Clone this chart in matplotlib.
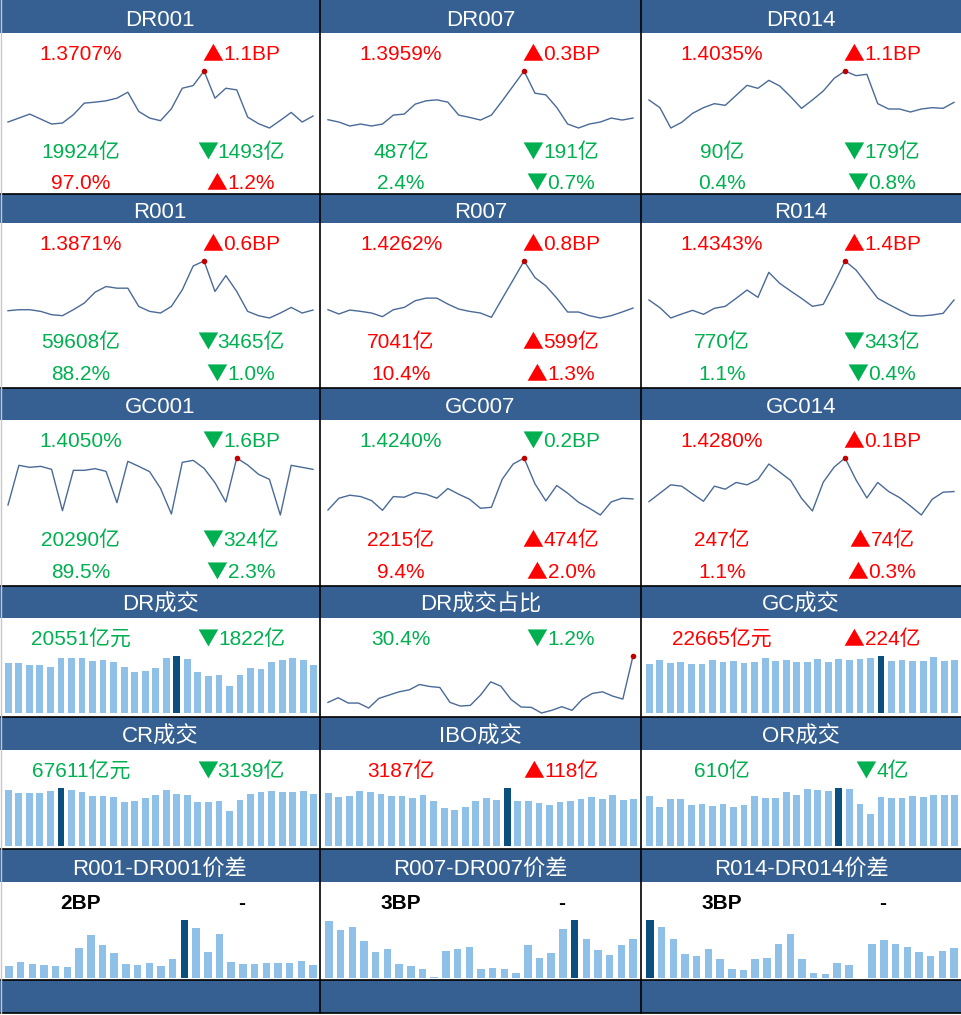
import matplotlib
matplotlib.use("Agg")
import matplotlib.pyplot as plt
from matplotlib.patches import Rectangle

plt.rcParams['font.family'] = ['Liberation Sans', 'Noto Sans CJK SC', 'DejaVu Sans']

W, H = 961, 1015
BLUE = "#366092"
RED = "#FF0000"
GREEN = "#00B050"
LINE = "#4A6A97"
BAR = "#8EC0E8"
BAR_HI = "#0B4F7F"

# ── rate panels ───────────────────────────────────────────────
rate_names = ["DR001", "DR007", "DR014", "R001", "R007", "R014", "GC001", "GC007", "GC014"]
rate_last = [1.3707, 1.3959, 1.4035, 1.3871, 1.4262, 1.4343, 1.4050, 1.4240, 1.4280]
rate_chg_bp = [1.1, 0.3, 1.1, 0.6, 0.8, 1.4, -1.6, -0.2, 0.1]
rate_vol = [19924, 487, 90, 59608, 7041, 770, 20290, 2215, 247]
rate_vol_chg = [-1493, -191, -179, -3465, 599, -343, -324, 474, 74]
rate_share = [97.0, 2.4, 0.4, 88.2, 10.4, 1.1, 89.5, 9.4, 1.1]
rate_share_chg = [1.2, -0.7, -0.8, -1.0, 1.3, -0.4, -2.3, 2.0, 0.3]

# sparkline levels (relative)
dr001_hist = [33, 45, 57, 42, 27, 30, 55, 90, 93, 97, 105, 123, 65, 45, 37, 73, 135, 143, 187,
              105, 135, 130, 48, 28, 15, 38, 62, 33, 51]
dr007_hist = [40, 33, 21, 27, 21, 27, 54, 57, 87, 97, 100, 93, 54, 47, 39, 54, 97, 142, 187,
              120, 115, 77, 27, 15, 27, 33, 45, 39, 45]
dr014_hist = [100, 77, 16, 33, 60, 77, 89, 84, 114, 144, 135, 159, 142, 110, 75, 100, 127, 165, 187,
              173, 177, 89, 73, 73, 64, 73, 77, 75, 93]
r001_hist = [37, 40, 40, 35, 25, 22, 40, 60, 93, 110, 105, 105, 50, 35, 30, 50, 100, 172, 187,
             95, 143, 95, 35, 22, 15, 30, 47, 30, 39]
r007_hist = [40, 27, 39, 35, 30, 19, 40, 47, 67, 75, 75, 57, 42, 35, 30, 17, 74, 130, 187,
             137, 112, 75, 33, 33, 22, 15, 22, 33, 45]
r014_hist = [70, 47, 16, 28, 39, 27, 45, 51, 75, 100, 78, 153, 120, 97, 75, 51, 57, 120, 187,
             160, 118, 75, 57, 40, 24, 22, 25, 30, 70]
gc001_hist = [40, 159, 153, 156, 147, 23, 144, 144, 149, 141, 47, 171, 156, 140, 90, 13, 168, 174,
              150, 107, 49, 181, 160, 132, 117, 10, 159, 153, 147]
gc007_hist = [25, 60, 69, 65, 53, 24, 65, 63, 77, 72, 60, 89, 72, 57, 30, 33, 117, 162, 180,
              103, 52, 98, 75, 48, 30, 10, 49, 60, 58]
gc014_hist = [50, 75, 100, 96, 73, 51, 96, 87, 107, 100, 116, 162, 138, 113, 60, 22, 108, 153, 180,
              115, 61, 107, 80, 62, 37, 10, 57, 78, 80]
rate_hist = [dr001_hist, dr007_hist, dr014_hist, r001_hist, r007_hist, r014_hist,
             gc001_hist, gc007_hist, gc014_hist]

# ── volume panels ─────────────────────────────────────────────
vol_names = ["DR成交", "DR成交占比", "GC成交", "CR成交", "IBO成交", "OR成交"]
vol_value = [20551, 30.4, 22665, 67611, 3187, 610]
vol_unit = ["亿元", "%", "亿元", "亿元", "亿", "亿"]
vol_chg = [-1822, -1.2, 224, -3139, 118, -4]
vol_chg_unit = ["亿", "%", "亿", "亿", "亿", "亿"]

dr_vol_hist = [152, 152, 145, 145, 139, 166, 166, 166, 157, 160, 154, 139, 124, 127, 136, 166, 172,
               163, 124, 112, 115, 82, 115, 136, 133, 154, 160, 166, 160, 145]
dr_share_hist = [48, 62, 46, 46, 31, 60, 70, 80, 86, 102, 96, 93, 48, 37, 39, 70, 110, 97, 57, 34,
                 33, 16, 24, 35, 24, 57, 75, 80, 67, 58, 188]
gc_vol_hist = [148, 160, 151, 154, 148, 148, 160, 154, 157, 151, 154, 166, 157, 160, 154, 154, 163,
               154, 163, 160, 163, 166, 172, 157, 160, 157, 157, 169, 157, 160]
cr_vol_hist = [168, 159, 159, 159, 165, 174, 168, 162, 150, 150, 147, 132, 135, 144, 153, 168, 156,
               153, 132, 132, 135, 105, 138, 156, 162, 165, 162, 162, 165, 156]
ibo_vol_hist = [159, 147, 150, 165, 162, 156, 150, 150, 144, 153, 135, 114, 108, 117, 135, 144, 138,
                174, 135, 135, 129, 123, 132, 135, 141, 147, 141, 153, 138, 141]
or_vol_hist = [150, 117, 141, 141, 123, 126, 120, 126, 117, 123, 150, 144, 144, 162, 153, 171, 168,
               165, 174, 171, 126, 96, 147, 144, 144, 150, 147, 153, 153, 153]
vol_hist = [dr_vol_hist, dr_share_hist, gc_vol_hist, cr_vol_hist, ibo_vol_hist, or_vol_hist]
vol_is_line = [False, True, False, False, False, False]

# ── spread panels ─────────────────────────────────────────────
spread_names = ["R001-DR001价差", "R007-DR007价差", "R014-DR014价差"]
spread_bp = [2, 3, 3]
spread1_hist = [35, 47, 41, 38, 35, 32, 89, 128, 98, 74, 41, 38, 44, 35, 56, 173, 149, 77, 131,
                47, 41, 41, 44, 44, 44, 50, 38]
spread7_hist = [173, 146, 155, 113, 77, 86, 41, 35, 26, 2, 80, 86, 95, 26, 29, 26, 14, 101, 59,
                74, 149, 175, 119, 83, 68, 101, 119]
spread14_hist = [173, 152, 116, 71, 65, 86, 56, 26, 23, 56, 59, 101, 131, 56, 14, 11, 44, 38, 0,
                 101, 113, 101, 92, 77, 65, 80, 89]
spread_hist = [spread1_hist, spread7_hist, spread14_hist]

# ── layout (pixels) ───────────────────────────────────────────
col_x = [0, 320, 641, 961]
row_top = [0, 194, 388, 586, 717, 849]
head_bot = [33, 223, 420, 618, 750, 882]
head_base = [26, 218, 413, 611, 743, 875]
rate_base = [(60, 158, 189), (250, 348, 380), (447, 546, 578)]
rate_box = [(71, 128), (261, 318), (458, 515)]
vol_base = [645, 777]
vol_box = [(656, 713), (788, 846)]
spread_base = 909
spread_box = (920, 978)
foot_top, foot_bot = 980, 1013


def sign_color(v):
    return RED if v > 0 else GREEN


def arrow(v):
    return "▲" if v > 0 else "▼"


fig = plt.figure(figsize=(W / 100, H / 100), dpi=100)
renderer = fig.canvas.get_renderer()
bg = fig.add_axes([0, 0, 1, 1])
bg.set_xlim(0, W)
bg.set_ylim(H, 0)
bg.axis("off")


def px_axes(x0, y0, x1, y1):
    ax = fig.add_axes([x0 / W, 1 - y1 / H, (x1 - x0) / W, (y1 - y0) / H])
    ax.axis("off")
    return ax


def header(r, c, title):
    bg.add_patch(Rectangle((col_x[c], row_top[r]), col_x[c + 1] - col_x[c],
                           head_bot[r] - row_top[r], color=BLUE, lw=0))
    bg.text((col_x[c] + col_x[c + 1]) / 2, head_base[r], title, color="white",
            fontsize=16, ha="center", va="baseline")


def put(c, y, side, s, color, bold=False):
    x = col_x[c] + (81 if side == 0 else 242)
    bg.text(x, y, s, color=color, fontsize=15, ha="center", va="baseline",
            fontweight="bold" if bold else "normal")


def put_chg(c, y, v, s, color):
    # big CJK-style triangle followed by the number, centred as one group
    cx = col_x[c] + 242
    t1 = bg.text(0, y, arrow(v), color=color, fontsize=15, ha="left", va="baseline",
                 family=["Noto Sans CJK SC"])
    t2 = bg.text(0, y, s, color=color, fontsize=15, ha="left", va="baseline")
    w1 = t1.get_window_extent(renderer).width
    w2 = t2.get_window_extent(renderer).width
    x0 = cx - (w1 + w2) / 2
    t1.set_x(x0 - 1)
    t2.set_x(x0 + w1 - 1)


def sparkline(c, y0, y1, vals):
    ax = px_axes(col_x[c] + 8, y0, col_x[c] + 313, y1)
    xs = list(range(len(vals)))
    ax.plot(xs, vals, color=LINE, lw=1.0, clip_on=False)
    k = vals.index(max(vals))
    ax.plot(k, vals[k], "o", color="#C00000", ms=3, clip_on=False)
    ax.set_xlim(0, len(vals) - 1)
    ax.set_ylim(min(vals), max(vals))


def columns(c, y0, y1, vals):
    ax = px_axes(col_x[c] + 3, y0, col_x[c] + 319, y1)
    k = vals.index(max(vals))
    colors = [BAR_HI if i == k else BAR for i in range(len(vals))]
    ax.bar(range(len(vals)), vals, width=0.64, color=colors, lw=0)
    ax.set_xlim(-0.5, len(vals) - 0.5)
    ax.set_ylim(0, max(vals))


# rate panels
for i, name in enumerate(rate_names):
    r, c = divmod(i, 3)
    header(r, c, name)
    b = rate_base[r]
    put(c, b[0], 0, f"{rate_last[i]:.4f}%", sign_color(rate_chg_bp[i]))
    put_chg(c, b[0], rate_chg_bp[i], f"{abs(rate_chg_bp[i]):.1f}BP", sign_color(rate_chg_bp[i]))
    put(c, b[1], 0, f"{rate_vol[i]}亿", sign_color(rate_vol_chg[i]))
    put_chg(c, b[1], rate_vol_chg[i], f"{abs(rate_vol_chg[i])}亿", sign_color(rate_vol_chg[i]))
    put(c, b[2], 0, f"{rate_share[i]:.1f}%", sign_color(rate_share_chg[i]))
    put_chg(c, b[2], rate_share_chg[i], f"{abs(rate_share_chg[i]):.1f}%", sign_color(rate_share_chg[i]))
    sparkline(c, rate_box[r][0], rate_box[r][1], rate_hist[i])

# volume panels
for i, name in enumerate(vol_names):
    rr, c = divmod(i, 3)
    r = 3 + rr
    header(r, c, name)
    col = sign_color(vol_chg[i])
    v = f"{vol_value[i]:.1f}" if vol_unit[i] == "%" else f"{vol_value[i]}"
    d = f"{abs(vol_chg[i]):.1f}" if vol_chg_unit[i] == "%" else f"{abs(vol_chg[i])}"
    put(c, vol_base[rr], 0, v + vol_unit[i], col)
    put_chg(c, vol_base[rr], vol_chg[i], d + vol_chg_unit[i], col)
    y0, y1 = vol_box[rr]
    if vol_is_line[i]:
        sparkline(c, y0, y1, vol_hist[i])
    else:
        columns(c, y0, y1, vol_hist[i])

# spread panels
for c, name in enumerate(spread_names):
    header(5, c, name)
    put(c, spread_base, 0, f"{spread_bp[c]}BP", "black", bold=True)
    put(c, spread_base, 1, "-", "black", bold=True)
    columns(c, spread_box[0], spread_box[1], spread_hist[c])
    bg.add_patch(Rectangle((col_x[c], foot_top), col_x[c + 1] - col_x[c],
                           foot_bot - foot_top, color=BLUE, lw=0))

# grid lines
for y in row_top[1:] + [foot_top, foot_bot]:
    bg.plot([0, W], [y, y], color="black", lw=1.2)
for x in col_x[1:3]:
    bg.plot([x, x], [0, foot_bot], color="black", lw=1.2)
bg.plot([0.5, 0.5], [0, foot_bot], color="#C8C8C8", lw=1)

fig.savefig("out.png", dpi=100)
